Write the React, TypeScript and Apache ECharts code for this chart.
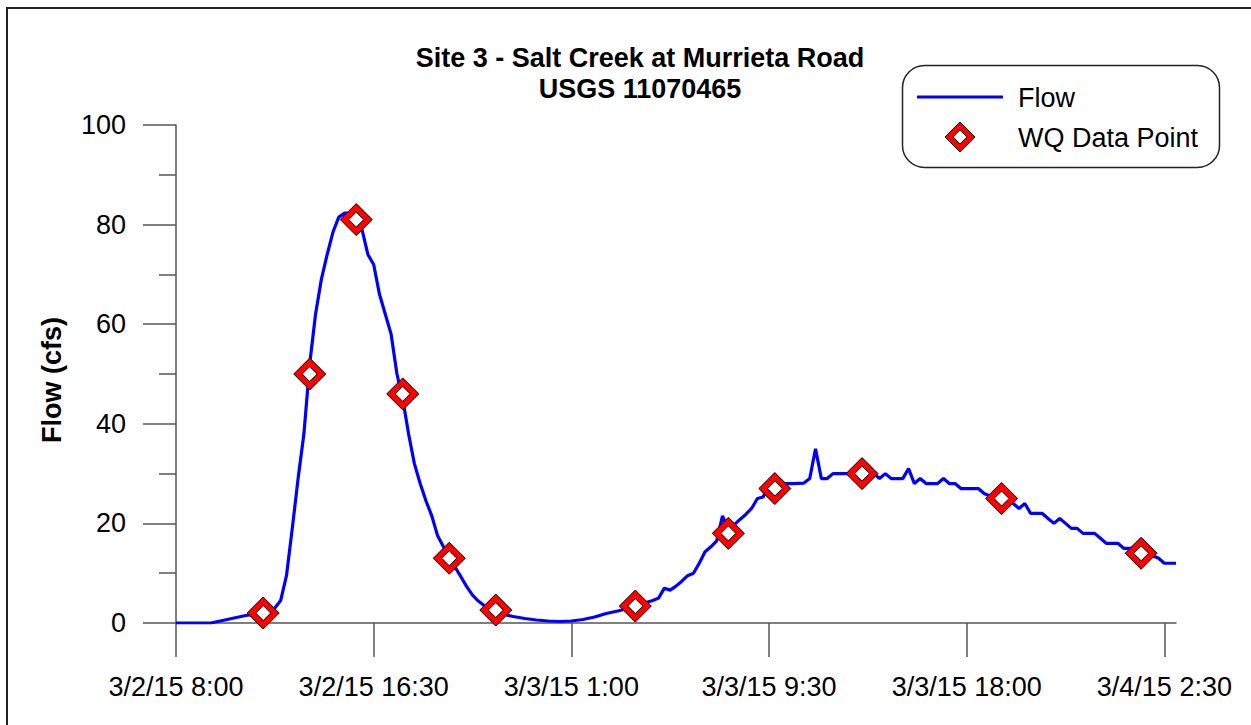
import React, { useEffect, useRef } from "react";
import * as echarts from "echarts";

// Hours after 3/2/15 8:00
const flowHours = [
  0, 1.5, 2.0, 2.5, 3.0, 3.5, 4.0, 4.25, 4.5, 4.75, 5.0, 5.25, 5.5, 5.75, 6.0, 6.25, 6.5, 6.75, 7.0, 7.25,
  7.5, 7.75, 8.0, 8.25, 8.5, 8.75, 9.0, 9.25, 9.5, 9.75, 10.0, 10.25, 10.5, 10.75, 11.0, 11.25, 11.5, 11.75,
  12.0, 12.25, 12.5, 12.75, 13.0, 13.25, 13.5, 13.75, 14.0, 14.5, 15.0, 15.5, 16.0, 16.5, 17.0, 17.5, 18.0,
  18.5, 19.0, 19.5, 20.0, 20.5, 20.75, 21.0, 21.25, 21.5, 21.75, 22.0, 22.25, 22.5, 22.75, 23.0, 23.25, 23.5,
  23.75, 24.0, 24.25, 24.5, 24.75, 25.0, 25.25, 25.5, 25.75, 26.0, 26.5, 27.0, 27.25, 27.5, 27.75, 28.0,
  28.25, 28.5, 29.0, 29.5, 30.0, 30.25, 30.5, 30.75, 31.0, 31.25, 31.5, 31.75, 32.0, 32.25, 32.5, 32.75,
  33.0, 33.25, 33.5, 33.75, 34.0, 34.25, 34.5, 34.75, 35.0, 35.25, 35.5, 35.75, 36.0, 36.25, 36.5, 36.75,
  37.0, 37.25, 37.5, 37.75, 38.0, 38.25, 38.5, 38.75, 39.0, 39.25, 39.5, 39.75, 40.0, 40.25, 40.5, 40.75,
  41.0, 41.25, 41.5, 41.75, 42.0, 42.25, 42.5, 42.75, 43.0,
];
const flowValues = [
  0, 0, 0.5, 1.0, 1.5, 1.8, 2.1, 3.0, 4.5, 9.5, 19, 29, 38, 52, 62, 69, 74, 78.5, 81.5, 82.3,
  82.3, 81.5, 79, 74, 72, 66, 62, 58, 50, 45, 38, 32, 28, 24.5, 21.5, 17.5, 15.3, 13.3,
  11.2, 9.3, 7.3, 5.6, 4.4, 3.5, 2.8, 2.2, 1.8, 1.3, 0.9, 0.6, 0.4, 0.3, 0.4, 0.7, 1.2,
  1.9, 2.4, 3.0, 3.8, 4.5, 5.0, 7.0, 6.6, 7.4, 8.4, 9.5, 10.0, 12.0, 14.3, 15.3, 16.5, 21.5,
  18.7, 19.7, 20.8, 21.8, 23.0, 25.0, 25.3, 28.0, 27.3, 28.0, 28.0, 28.1, 29.0, 35.0, 29.0, 29.0,
  30.0, 30.0, 30.0, 30.0, 30.0, 29.0, 30.0, 29.0, 29.0, 29.0, 31.0, 28.0, 29.0, 28.0, 28.0, 28.0,
  29.0, 28.0, 28.0, 27.0, 27.0, 27.0, 27.0, 26.0, 25.5, 25.0, 25.0, 24.5, 24.0, 23.0, 24.0, 22.0,
  22.0, 22.0, 21.0, 20.0, 21.0, 20.0, 19.0, 19.0, 18.0, 18.0, 18.0, 17.0, 16.0, 16.0, 16.0, 15.0,
  15.0, 15.0, 14.5, 14.0, 13.5, 13.0, 12.0, 12.0, 12.0,
];

const wqHours = [3.75, 5.75, 7.75, 9.75, 11.75, 13.75, 19.75, 23.75, 25.75, 29.5, 35.5, 41.5];
const wqValues = [2.0, 50, 81, 46, 13, 2.6, 3.4, 18, 27, 30, 25, 14];

const xTickHours = [0, 8.5, 17, 25.5, 34, 42.5];
const xTickLabels = [
  "3/2/15 8:00",
  "3/2/15 16:30",
  "3/3/15 1:00",
  "3/3/15 9:30",
  "3/3/15 18:00",
  "3/4/15 2:30",
];

const titleText = "Site 3 - Salt Creek at Murrieta Road\nUSGS 11070465";
const yAxisTitle = "Flow (cfs)";
const legendNames = ["Flow", "WQ Data Point"];

const FONT = "'Liberation Sans', Arial, sans-serif";
const AXIS_COLOR = "#555555";

export default function App() {
  const ref = useRef<HTMLDivElement>(null);

  useEffect(() => {
    if (!ref.current) return;
    const chart = echarts.init(ref.current, null, { renderer: "svg" });

    const flowData = flowHours.map((h, i) => [h, flowValues[i]]);
    const wqData = wqHours.map((h, i) => [h, wqValues[i]]);

    const labelFor = (v: number) => {
      for (let i = 0; i < xTickHours.length; i++) {
        if (Math.abs(xTickHours[i] - v) < 1e-6) return xTickLabels[i];
      }
      return "";
    };

    const option: any = {
      animation: false,
      backgroundColor: "#ffffff",
      textStyle: { fontFamily: FONT },
      title: {
        text: titleText,
        left: 635,
        top: 37,
        textAlign: "center",
        textStyle: {
          fontFamily: FONT,
          fontSize: 27,
          fontWeight: "bold",
          color: "#000",
          lineHeight: 31,
        },
      },
      grid: { left: 176, right: 75, top: 125, bottom: 102 },
      xAxis: {
        type: "value",
        min: 0,
        max: 43,
        interval: 8.5,
        splitLine: { show: false },
        axisLine: { show: true, onZero: false, lineStyle: { color: AXIS_COLOR, width: 1.5 } },
        axisTick: {
          show: true,
          length: 34,
          customValues: xTickHours,
          lineStyle: { color: AXIS_COLOR, width: 1.5 },
        },
        axisLabel: {
          customValues: xTickHours,
          formatter: (v: number) => labelFor(v),
          fontFamily: FONT,
          fontSize: 27,
          color: "#000",
          margin: 50,
          showMaxLabel: true,
          hideOverlap: false,
        },
      },
      yAxis: {
        type: "value",
        min: 0,
        max: 100,
        interval: 20,
        splitLine: { show: false },
        axisLine: { show: true, onZero: false, lineStyle: { color: AXIS_COLOR, width: 1.5 } },
        axisTick: { show: true, length: 33, lineStyle: { color: AXIS_COLOR, width: 1.5 } },
        minorTick: { show: true, splitNumber: 2, length: 17, lineStyle: { color: AXIS_COLOR, width: 1.5 } },
        minorSplitLine: { show: false },
        axisLabel: {
          fontFamily: FONT,
          fontSize: 27,
          color: "#000",
          margin: 50,
        },
      },
      series: [
        {
          name: legendNames[0],
          type: "line",
          data: flowData,
          showSymbol: false,
          symbol: "none",
          lineStyle: { color: "#0000ff", width: 3.2 },
          z: 2,
        },
        {
          name: legendNames[1],
          type: "scatter",
          data: wqData,
          symbol: "diamond",
          symbolSize: 32,
          itemStyle: { color: "#ff0000", borderColor: "#000000", borderWidth: 1, opacity: 1 },
          z: 3,
          silent: true,
        },
        {
          name: legendNames[1] + " inner",
          type: "scatter",
          data: wqData,
          symbol: "diamond",
          symbolSize: 15,
          itemStyle: { color: "#ffffff", borderColor: "#000000", borderWidth: 1, opacity: 1 },
          z: 4,
          silent: true,
        },
      ],
      graphic: [
        {
          type: "rect",
          shape: { x: 7, y: 8, width: 1300, height: 800 },
          style: { fill: "none", stroke: "#222222", lineWidth: 2 },
          silent: true,
          z: 0,
        },
        {
          type: "text",
          x: 52,
          y: 380,
          rotation: Math.PI / 2,
          style: {
            text: yAxisTitle,
            fontFamily: FONT,
            fontSize: 27,
            fontWeight: "bold",
            fill: "#000",
            align: "center",
            verticalAlign: "middle",
          },
        },
        {
          type: "group",
          z: 10,
          children: [
            {
              type: "rect",
              shape: { x: 902.5, y: 65.5, width: 317, height: 102, r: 22 },
              style: { fill: "#ffffff", stroke: "#222222", lineWidth: 1.5 },
            },
            {
              type: "line",
              shape: { x1: 917, y1: 97, x2: 1003, y2: 97 },
              style: { stroke: "#0000ff", lineWidth: 3 },
            },
            {
              type: "text",
              x: 1018,
              y: 98,
              style: {
                text: legendNames[0],
                fontFamily: FONT,
                fontSize: 27,
                fill: "#000",
                align: "left",
                verticalAlign: "middle",
              },
            },
            {
              type: "polygon",
              shape: { points: [[960, 122], [975, 137], [960, 152], [945, 137]] },
              style: { fill: "#ff0000", stroke: "#000", lineWidth: 1 },
            },
            {
              type: "polygon",
              shape: { points: [[960, 130], [967, 137], [960, 144], [953, 137]] },
              style: { fill: "#ffffff", stroke: "#000", lineWidth: 1 },
            },
            {
              type: "text",
              x: 1018,
              y: 138,
              style: {
                text: legendNames[1],
                fontFamily: FONT,
                fontSize: 27,
                fill: "#000",
                align: "left",
                verticalAlign: "middle",
              },
            },
          ],
        },
      ],
    };

    chart.setOption(option);
    return () => {
      chart.dispose();
    };
  }, []);

  return (
    <div
      ref={ref}
      style={{ position: "fixed", left: 0, top: 0, width: 1251, height: 725, background: "#fff" }}
    />
  );
}
